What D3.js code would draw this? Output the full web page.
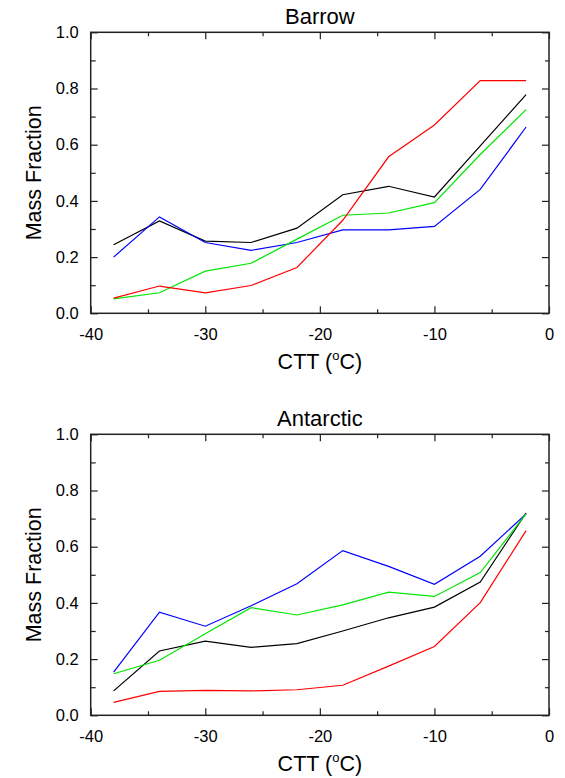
<!DOCTYPE html>
<meta charset="utf-8">
<script src="https://d3js.org/d3.v7.min.js"></script>
<style>
  body { margin: 0; background: #fff; }
  text { font-family: "Liberation Sans", Arial, Helvetica, sans-serif; }
</style>
<div id="my_dataviz"></div>
<script>

// cloud top temperature bins (x)
var ctt = [-38, -34, -30, -26, -22, -18, -14, -10, -6, -2];

// Barrow
var barrowBlack = [0.244, 0.329, 0.257, 0.252, 0.303, 0.422, 0.452, 0.414, 0.596, 0.778];
var barrowBlue  = [0.200, 0.343, 0.252, 0.224, 0.252, 0.297, 0.297, 0.309, 0.441, 0.663];
var barrowGreen = [0.051, 0.073, 0.150, 0.178, 0.264, 0.349, 0.357, 0.394, 0.565, 0.725];
var barrowRed   = [0.054, 0.097, 0.073, 0.099, 0.163, 0.331, 0.557, 0.670, 0.828, 0.828];

// Antarctic
var antBlack = [0.087, 0.229, 0.264, 0.242, 0.255, 0.300, 0.347, 0.385, 0.474, 0.720];
var antBlue  = [0.154, 0.367, 0.317, 0.390, 0.468, 0.586, 0.530, 0.466, 0.566, 0.717];
var antGreen = [0.148, 0.196, 0.290, 0.383, 0.357, 0.393, 0.438, 0.423, 0.508, 0.717];
var antRed   = [0.046, 0.085, 0.089, 0.087, 0.091, 0.107, 0.175, 0.245, 0.401, 0.657];

var xMajor = [-40, -30, -20, -10, 0];
var xMinor = [-35, -25, -15, -5];
var yMajor = [0, 0.2, 0.4, 0.6, 0.8, 1.0];
var yMinor = [0.1, 0.3, 0.5, 0.7, 0.9];

var panels = [
  {title: "Barrow", top: 32.3, series: [barrowBlack, barrowBlue, barrowGreen, barrowRed]},
  {title: "Antarctic", top: 434.3, series: [antBlack, antBlue, antGreen, antRed]}
];
var colors = ["#000000", "#0000ff", "#00e600", "#ff0000"];

var W = 565, H = 778;
var left = 90.7, width = 458.3, height = 281;

var svg = d3.select("#my_dataviz")
  .append("svg")
    .attr("width", W)
    .attr("height", H);

var x = d3.scaleLinear().domain([-40, 0]).range([0, width]);
var y = d3.scaleLinear().domain([0, 1]).range([height, 0]);

panels.forEach(function(p) {
  var g = svg.append("g")
    .attr("transform", "translate(" + left + "," + p.top + ")");

  // lines
  var line = d3.line()
    .x(function(d, i) { return x(ctt[i]); })
    .y(function(d) { return y(d); });

  p.series.forEach(function(s, k) {
    g.append("path")
      .datum(s)
      .attr("fill", "none")
      .attr("stroke", colors[k])
      .attr("stroke-width", 1.2)
      .attr("d", line);
  });

  // axes, ticks inward
  var fmtX = function(d) { return String(d); };
  var fmtY = d3.format(".1f");

  function addAxis(axis, tr, labels) {
    var a = g.append("g").attr("transform", tr).call(axis);
    a.select(".domain").remove();
    a.selectAll("line").attr("stroke", "#222").attr("stroke-width", 1.2);
    a.selectAll("text").attr("font-size", "16.5px").attr("fill", "#000");
    if (!labels) a.selectAll("text").remove();
  }

  addAxis(d3.axisBottom(x).tickValues(xMajor).tickSize(-7).tickPadding(15).tickFormat(fmtX),
          "translate(0," + height + ")", true);
  addAxis(d3.axisBottom(x).tickValues(xMinor).tickSize(-4).tickFormat(""),
          "translate(0," + height + ")", false);
  addAxis(d3.axisTop(x).tickValues(xMajor).tickSize(-7).tickFormat(""), "translate(0,0)", false);
  addAxis(d3.axisTop(x).tickValues(xMinor).tickSize(-4).tickFormat(""), "translate(0,0)", false);

  addAxis(d3.axisLeft(y).tickValues(yMajor).tickSize(-7).tickPadding(12).tickFormat(fmtY),
          "translate(0,0)", true);
  addAxis(d3.axisLeft(y).tickValues(yMinor).tickSize(-5).tickFormat(""), "translate(0,0)", false);
  addAxis(d3.axisRight(y).tickValues(yMajor).tickSize(-7).tickFormat(""),
          "translate(" + width + ",0)", false);
  addAxis(d3.axisRight(y).tickValues(yMinor).tickSize(-4).tickFormat(""),
          "translate(" + width + ",0)", false);

  // frame
  g.append("rect")
    .attr("x", 0).attr("y", 0)
    .attr("width", width).attr("height", height)
    .attr("fill", "none")
    .attr("stroke", "#222")
    .attr("stroke-width", 1.5);

  // title
  g.append("text")
    .attr("x", width / 2)
    .attr("y", -8)
    .attr("text-anchor", "middle")
    .attr("font-size", "22px")
    .text(p.title);

  // x label
  var xl = g.append("text")
    .attr("x", width / 2)
    .attr("y", height + 56)
    .attr("text-anchor", "middle")
    .attr("font-size", "21.5px");
  xl.append("tspan").text("CTT (");
  xl.append("tspan").attr("font-size", "13px").attr("dy", -9).text("o");
  xl.append("tspan").attr("dy", 9).text("C)");

  // y label
  g.append("text")
    .attr("transform", "translate(" + (40.7 - left) + "," + (height / 2) + ") rotate(-90)")
    .attr("text-anchor", "middle")
    .attr("font-size", "21.5px")
    .text("Mass Fraction");
});

</script>
